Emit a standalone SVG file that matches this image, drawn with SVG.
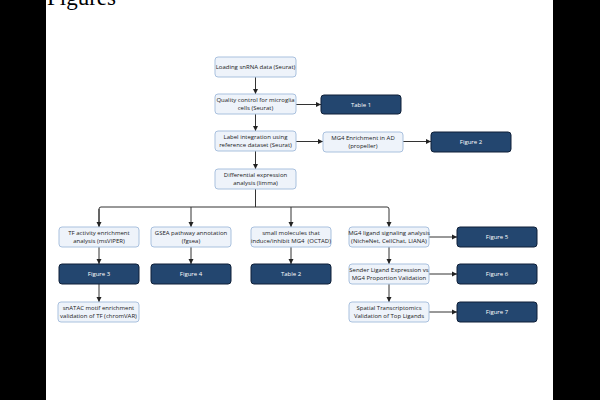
<svg xmlns="http://www.w3.org/2000/svg" width="600" height="400" viewBox="0 0 600 400">
<defs>
<style>
.l{fill:#eef3fa;stroke:#a9c1de;stroke-width:1}
.d{fill:#23466f;stroke:#0e1f38;stroke-width:1}
.t{font-family:"Open Sans","Noto Sans",sans-serif;font-size:6px;fill:#1a1a1a;text-anchor:middle;white-space:pre}
.w{font-family:"Open Sans","Noto Sans",sans-serif;font-size:6px;fill:#ffffff;text-anchor:middle}
.e{fill:none;stroke:#333333;stroke-width:1}
</style>
<marker id="a" markerWidth="6" markerHeight="6" refX="5" refY="3" orient="auto" markerUnits="userSpaceOnUse">
<path d="M0,0.5 L5,3 L0,5.5 Z" fill="#222222"/>
</marker>
</defs>
<rect x="0" y="0" width="600" height="400" fill="#ffffff"/>
<rect x="0" y="0" width="46" height="400" fill="#000000"/>
<rect x="553" y="0" width="47" height="400" fill="#000000"/>
<text x="47" y="5" font-family="Liberation Serif, serif" font-size="23" fill="#000000">Figures</text>

<g id="edges">
<path class="e" d="M255.5,77 V94" marker-end="url(#a)"/>
<path class="e" d="M296,104.5 H321" marker-end="url(#a)"/>
<path class="e" d="M255.5,114 V131" marker-end="url(#a)"/>
<path class="e" d="M296,141.5 H323" marker-end="url(#a)"/>
<path class="e" d="M403,141.5 H431" marker-end="url(#a)"/>
<path class="e" d="M255.5,151 V169" marker-end="url(#a)"/>
<path class="e" d="M255.5,189 V207"/>
<path class="e" d="M99,227 V209 Q99,207 101,207 H387 Q389,207 389,209 V227" marker-end="url(#a)"/>
<path class="e" d="M99,209 V227" marker-end="url(#a)"/>
<path class="e" d="M191,207 V227" marker-end="url(#a)"/>
<path class="e" d="M291,207 V227" marker-end="url(#a)"/>
<path class="e" d="M99,247 V264" marker-end="url(#a)"/>
<path class="e" d="M191,247 V264" marker-end="url(#a)"/>
<path class="e" d="M291,247 V264" marker-end="url(#a)"/>
<path class="e" d="M99,284 V302" marker-end="url(#a)"/>
<path class="e" d="M429,237 H457" marker-end="url(#a)"/>
<path class="e" d="M389,247 V264" marker-end="url(#a)"/>
<path class="e" d="M429,274 H457" marker-end="url(#a)"/>
<path class="e" d="M389,284 V302" marker-end="url(#a)"/>
<path class="e" d="M429,312 H457" marker-end="url(#a)"/>
</g>

<g id="n1"><rect class="l" x="215" y="57" width="81" height="20" rx="3"/><text class="t" x="255.5" y="69">Loading snRNA data (Seurat)</text></g>
<g id="n2"><rect class="l" x="215" y="94" width="81" height="20" rx="3"/><text class="t" x="255.5" y="102">Quality control for microglia</text><text class="t" x="255.5" y="110">cells (Seurat)</text></g>
<g id="table1"><rect class="d" x="321" y="95" width="80" height="19" rx="3"/><text class="w" x="361" y="106.5">Table 1</text></g>
<g id="n3"><rect class="l" x="215" y="131" width="81" height="20" rx="3"/><text class="t" x="255.5" y="139">Label integration using</text><text class="t" x="255.5" y="147">reference dataset (Seurat)</text></g>
<g id="mg4enr"><rect class="l" x="323" y="132" width="80" height="20" rx="3"/><text class="t" x="363" y="140">MG4 Enrichment in AD</text><text class="t" x="363" y="148">(propeller)</text></g>
<g id="fig2"><rect class="d" x="431" y="132" width="80" height="20" rx="3"/><text class="w" x="471" y="144">Figure 2</text></g>
<g id="n4"><rect class="l" x="215" y="169" width="81" height="20" rx="3"/><text class="t" x="255.5" y="177">Differential expression</text><text class="t" x="255.5" y="185">analysis (limma)</text></g>

<g id="tf"><rect class="l" x="59" y="227" width="80" height="20" rx="3"/><text class="t" x="99" y="235">TF activity enrichment</text><text class="t" x="99" y="243">analysis (msVIPER)</text></g>
<g id="gsea"><rect class="l" x="151" y="227" width="80" height="20" rx="3"/><text class="t" x="191" y="235">GSEA pathway annotation</text><text class="t" x="191" y="243">(fgsea)</text></g>
<g id="small"><rect class="l" x="251" y="227" width="80" height="20" rx="3"/><text class="t" x="291" y="235">small molecules that</text><text class="t" x="291" y="243">induce/inhibit MG4  (OCTAD)</text></g>
<g id="lig"><rect class="l" x="349" y="227" width="80" height="20" rx="3"/><text class="t" x="389" y="235">MG4 ligand signaling analysis</text><text class="t" x="389" y="243">(NicheNet, CellChat, LIANA)</text></g>
<g id="fig5"><rect class="d" x="457" y="227" width="80" height="20" rx="3"/><text class="w" x="497" y="239">Figure 5</text></g>

<g id="fig3"><rect class="d" x="59" y="264" width="80" height="20" rx="3"/><text class="w" x="99" y="276">Figure 3</text></g>
<g id="fig4"><rect class="d" x="151" y="264" width="80" height="20" rx="3"/><text class="w" x="191" y="276">Figure 4</text></g>
<g id="table2"><rect class="d" x="251" y="264" width="80" height="20" rx="3"/><text class="w" x="291" y="276">Table 2</text></g>
<g id="sender"><rect class="l" x="349" y="264" width="80" height="20" rx="3"/><text class="t" x="389" y="272">Sender Ligand Expression vs</text><text class="t" x="389" y="280">MG4 Proportion Validation</text></g>
<g id="fig6"><rect class="d" x="457" y="264" width="80" height="20" rx="3"/><text class="w" x="497" y="276">Figure 6</text></g>

<g id="snatac"><rect class="l" x="58" y="302" width="81" height="20" rx="3"/><text class="t" x="98.5" y="310">snATAC motif enrichment</text><text class="t" x="98.5" y="318">validation of TF (chromVAR)</text></g>
<g id="spatial"><rect class="l" x="349" y="302" width="80" height="20" rx="3"/><text class="t" x="389" y="310">Spatial Transcriptomics</text><text class="t" x="389" y="318">Validation of Top Ligands</text></g>
<g id="fig7"><rect class="d" x="457" y="302" width="80" height="20" rx="3"/><text class="w" x="497" y="314">Figure 7</text></g>
</svg>
